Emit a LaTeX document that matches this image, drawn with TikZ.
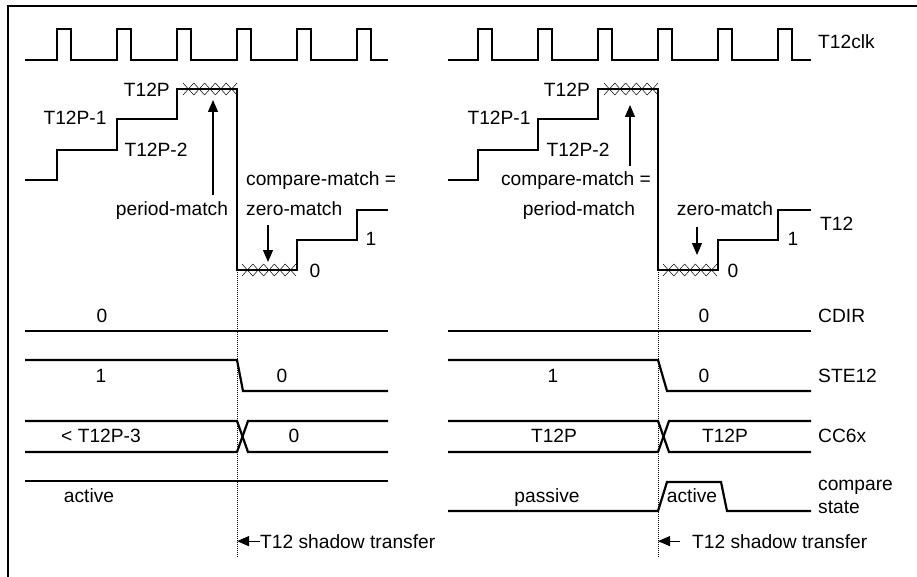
\documentclass[tikz,border=0pt]{standalone}
\usepackage{fontspec}
\setmainfont{Liberation Sans}
\usetikzlibrary{arrows.meta}
\tikzset{
  wave/.style={line width=2.2pt, line join=miter},
  frm/.style={line width=2.6pt},
  hatch/.style={line width=0.5pt},
  tline/.style={line width=0.6pt, dash pattern=on 1pt off 1pt},
  lbl/.style={font=\fontsize{19.2}{23}\selectfont, inner sep=0pt},
  arr/.style={-{Triangle[length=12pt, width=10pt]}, line width=1.2pt},
}
% row of small crosses on a flat part of T12
\newcommand{\xrow}[2]{%
  \foreach \k in {0,...,4}{
    \draw[hatch] ({#1+\k*10.8},#2-6) -- ({#1+\k*10.8+10.8},#2+6);
    \draw[hatch] ({#1+\k*10.8},#2+6) -- ({#1+\k*10.8+10.8},#2-6);
  }}

\begin{document}
\begin{tikzpicture}[x=1pt, y=-1pt]
\useasboundingbox (0,0) rectangle (917,577);

% frame
\draw[frm] (920,6) -- (8,6) -- (8,580);

% T12clk
\draw[wave] (25,60) \foreach \x in {57,117,177,237,297,357}
  { -- (\x,60) -- (\x,29) -- ({\x+14},29) -- ({\x+14},60) } -- (388,60);
\draw[wave] (448,60) \foreach \x in {478,538,598,658,718,778}
  { -- (\x,60) -- (\x,29) -- ({\x+14},29) -- ({\x+14},60) } -- (811,60);

% T12
\draw[wave] (25,180) -| (57,150) -| (117,119) -| (177,89) -| (237,270)
  -| (297,240) -| (357,210) -- (388,210);
\draw[wave] (448,180) -| (478,150) -| (538,119) -| (598,89) -| (658,270)
  -| (718,240) -| (778,210) -- (811,210);
\xrow{183}{89}
\xrow{242}{270}
\xrow{604}{89}
\xrow{663}{270}

% CDIR
\draw[wave] (25,331) -- (388,331);
\draw[wave] (448,331) -- (811,331);

% STE12
\draw[wave] (25,360) -- (237,360) -- (243,391) -- (388,391);
\draw[wave] (448,360) -- (658,360) -- (667,391) -- (811,391);

% CC6x
\draw[wave] (25,421) -- (237,421) -- (248,452) -- (388,452);
\draw[wave] (25,452) -- (237,452) -- (248,421) -- (388,421);
\draw[wave] (448,421) -- (658,421) -- (669,452) -- (811,452);
\draw[wave] (448,452) -- (658,452) -- (669,421) -- (811,421);

% compare state
\draw[wave] (25,481) -- (388,481);
\draw[wave] (448,511) -- (658,511) -- (667,482) -- (721,482) -- (727,511) -- (811,511);

% shadow transfer instants
\coordinate (shL) at (237,270);
\coordinate (shR) at (658,270);
\draw[tline] (shL) -- (237,557);
\draw[tline] (shR) -- (658,557);

% left: T12 labels
\node[lbl, anchor=base east] (pL) at (170,96.5) {T12P};
\node[lbl, anchor=base] (p1L) at (75,125) {T12P-1};
\node[lbl, anchor=base] (p2L) at (156,157) {T12P-2};
\node[lbl, anchor=base] (pmL) at (172,215) {period-match};
\node[lbl, anchor=base west] (cmL) at (246,186) {compare-match =};
\node[lbl, anchor=base west] (zmL) at (246,216) {zero-match};
\node[lbl, anchor=base] (z0L) at (315,277) {0};
\node[lbl, anchor=base] (z1L) at (371,245) {1};
\coordinate (pmtipL) at (213,100);
\coordinate (zmtipL) at (268,262);
\draw[arr] ([yshift=6pt]pmL.north -| pmtipL) -- (pmtipL);
\draw[arr] ([yshift=-9pt]zmL.south -| zmtipL) -- (zmtipL);

% right: T12 labels
\node[lbl, anchor=base east] (pR) at (590,96.5) {T12P};
\node[lbl, anchor=base] (p1R) at (499,125) {T12P-1};
\node[lbl, anchor=base] (p2R) at (578,157) {T12P-2};
\node[lbl, anchor=base] (cmR) at (576,186) {compare-match =};
\node[lbl, anchor=base] (pmR) at (579,215) {period-match};
\node[lbl, anchor=base] (zmR) at (725,215) {zero-match};
\node[lbl, anchor=base] (z0R) at (733,277) {0};
\node[lbl, anchor=base] (z1R) at (793,245) {1};
\coordinate (pmtipR) at (630,105);
\coordinate (zmtipR) at (697,255);
\draw[arr] ([yshift=6pt]cmR.north -| pmtipR) -- (pmtipR);
\draw[arr] ([yshift=-12pt]zmR.south -| zmtipR) -- (zmtipR);

% signal names
\node[lbl, anchor=base west] (clk) at (818,49) {T12clk};
\node[lbl, anchor=base west] (t12) at (820,230) {T12};
\node[lbl, anchor=base west] (cdir) at (818,322) {CDIR};
\node[lbl, anchor=base west] (ste) at (818,382) {STE12};
\node[lbl, anchor=base west] (cc) at (818,442) {CC6x};
\node[lbl, anchor=base west, align=left] (cst) at (818,513) {compare\\state};

% values, left
\node[lbl, anchor=base] (cdL) at (102,322) {0};
\node[lbl, anchor=base] (st1L) at (101,382) {1};
\node[lbl, anchor=base] (st0L) at (282,382) {0};
\node[lbl, anchor=base] (ccaL) at (101,442) {< T12P-3};
\node[lbl, anchor=base] (ccbL) at (294,442) {0};
\node[lbl, anchor=base] (actL) at (89,502) {active};

% values, right
\node[lbl, anchor=base] (cdR) at (704,322) {0};
\node[lbl, anchor=base] (st1R) at (553,382) {1};
\node[lbl, anchor=base] (st0R) at (704,382) {0};
\node[lbl, anchor=base] (ccaR) at (554,442) {T12P};
\node[lbl, anchor=base] (ccbR) at (725,442) {T12P};
\node[lbl, anchor=base] (pasR) at (547,502) {passive};
\node[lbl, anchor=base] (actR) at (692,502) {active};

% shadow transfer
\node[lbl, anchor=base west] (stL) at (260,548) {T12 shadow transfer};
\node[lbl, anchor=base west] (stR) at (692,548) {T12 shadow transfer};
\draw[arr] (stL.west) -- (stL.west -| shL);
\draw[arr] ([xshift=-12pt]stR.west) -- (stR.west -| shR);

\end{tikzpicture}
\end{document}
